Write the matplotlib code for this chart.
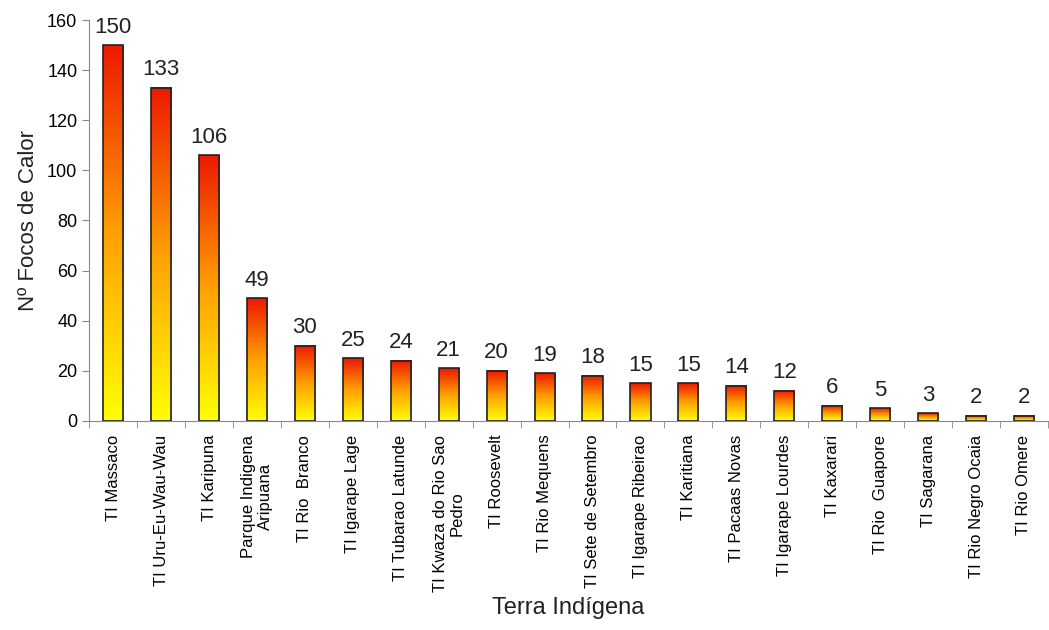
import numpy as np
import matplotlib.pyplot as plt
from matplotlib.colors import LinearSegmentedColormap

plt.rcParams['font.family'] = ['Liberation Sans', 'DejaVu Sans']

terras = ["TI Massaco", "TI Uru-Eu-Wau-Wau", "TI Karipuna", "Parque Indigena\nAripuana",
          "TI Rio  Branco", "TI Igarape Lage", "TI Tubarao Latunde", "TI Kwaza do Rio Sao\nPedro",
          "TI Roosevelt", "TI Rio Mequens", "TI Sete de Setembro", "TI Igarape Ribeirao",
          "TI Karitiana", "TI Pacaas Novas", "TI Igarape Lourdes", "TI Kaxarari",
          "TI Rio  Guapore", "TI Sagarana", "TI Rio Negro Ocaia", "TI Rio Omere"]
focos = [150, 133, 106, 49, 30, 25, 24, 21, 20, 19, 18, 15, 15, 14, 12, 6, 5, 3, 2, 2]

cmap = LinearSegmentedColormap.from_list("fogo", ["#ffff00", "#ffa000", "#ee1800"])

fig = plt.figure(figsize=(10.49, 6.30), dpi=100)
ax = fig.add_axes([0.085, 0.332, 0.914, 0.636])

x = np.arange(len(focos))
bars = ax.bar(x, focos, width=0.42, facecolor='none', edgecolor='#222222', linewidth=1.2, zorder=3)

# gradiente dentro de cada barra (amarelo embaixo, vermelho em cima)
grad = np.linspace(0, 1, 256).reshape(-1, 1)
for b in bars:
    x0, w, h = b.get_x(), b.get_width(), b.get_height()
    ax.imshow(grad, cmap=cmap, origin='lower', aspect='auto',
              extent=(x0, x0 + w, 0, h), zorder=2)
    ax.text(x0 + w / 2, h + 3, str(int(h)), ha='center', va='bottom', fontsize=16, color='#222222')

ax.set_xlim(-0.5, len(focos) - 0.5)
ax.set_ylim(0, 160)
ax.set_yticks(range(0, 161, 20))
ax.tick_params(axis='y', labelsize=13, length=5, color='#888888')

ax.set_xticks(x)
ax.set_xticklabels(terras, rotation=90, fontsize=12, ha='center', va='top', multialignment='center')
ax.tick_params(axis='x', length=0, pad=10)
ax.set_xticks(np.arange(-0.5, len(focos), 1), minor=True)
ax.tick_params(axis='x', which='minor', length=5, color='#888888')

for s in ['top', 'right']:
    ax.spines[s].set_visible(False)
for s in ['left', 'bottom']:
    ax.spines[s].set_color('#888888')

ax.set_ylabel("Nº Focos de Calor", fontsize=16, color='#222222', labelpad=6)
ax.set_xlabel("Terra Indígena", fontsize=17, color='#222222', labelpad=4)

fig.savefig("out.png", dpi=100)
